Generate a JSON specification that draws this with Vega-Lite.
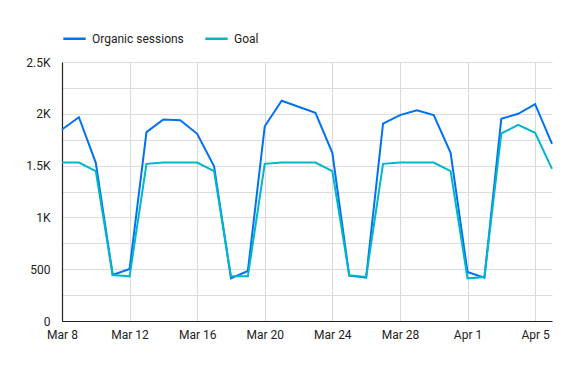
{
  "$schema": "https://vega.github.io/schema/vega-lite/v6.json",
  "width": 490,
  "height": 259,
  "autosize": {"type": "none"},
  "padding": {"left": 62, "top": 62, "right": 30, "bottom": 71},
  "background": "white",
  "config": {
    "font": "Roboto",
    "view": {"stroke": null},
    "axis": {"labelFont": "Roboto", "labelFontSize": 12, "labelColor": "#222222", "ticks": false, "gridColor": "#dddddd", "gridWidth": 1, "domainColor": "#222222", "domainWidth": 1.2, "title": null, "labelOverlap": false}
  },
  "data": {
    "values": [
      {"date": "2023-03-08", "series": "Organic sessions", "value": 1848},
      {"date": "2023-03-09", "series": "Organic sessions", "value": 1967},
      {"date": "2023-03-10", "series": "Organic sessions", "value": 1527},
      {"date": "2023-03-11", "series": "Organic sessions", "value": 444},
      {"date": "2023-03-12", "series": "Organic sessions", "value": 502},
      {"date": "2023-03-13", "series": "Organic sessions", "value": 1823},
      {"date": "2023-03-14", "series": "Organic sessions", "value": 1945},
      {"date": "2023-03-15", "series": "Organic sessions", "value": 1938},
      {"date": "2023-03-16", "series": "Organic sessions", "value": 1807},
      {"date": "2023-03-17", "series": "Organic sessions", "value": 1494},
      {"date": "2023-03-18", "series": "Organic sessions", "value": 412},
      {"date": "2023-03-19", "series": "Organic sessions", "value": 483},
      {"date": "2023-03-20", "series": "Organic sessions", "value": 1880},
      {"date": "2023-03-21", "series": "Organic sessions", "value": 2126},
      {"date": "2023-03-22", "series": "Organic sessions", "value": 2068},
      {"date": "2023-03-23", "series": "Organic sessions", "value": 2010},
      {"date": "2023-03-24", "series": "Organic sessions", "value": 1623},
      {"date": "2023-03-25", "series": "Organic sessions", "value": 438},
      {"date": "2023-03-26", "series": "Organic sessions", "value": 418},
      {"date": "2023-03-27", "series": "Organic sessions", "value": 1906},
      {"date": "2023-03-28", "series": "Organic sessions", "value": 1987},
      {"date": "2023-03-29", "series": "Organic sessions", "value": 2035},
      {"date": "2023-03-30", "series": "Organic sessions", "value": 1987},
      {"date": "2023-03-31", "series": "Organic sessions", "value": 1623},
      {"date": "2023-04-01", "series": "Organic sessions", "value": 473},
      {"date": "2023-04-02", "series": "Organic sessions", "value": 418},
      {"date": "2023-04-03", "series": "Organic sessions", "value": 1952},
      {"date": "2023-04-04", "series": "Organic sessions", "value": 2000},
      {"date": "2023-04-05", "series": "Organic sessions", "value": 2093},
      {"date": "2023-04-06", "series": "Organic sessions", "value": 1710},
      {"date": "2023-03-08", "series": "Goal", "value": 1530},
      {"date": "2023-03-09", "series": "Goal", "value": 1530},
      {"date": "2023-03-10", "series": "Goal", "value": 1446},
      {"date": "2023-03-11", "series": "Goal", "value": 444},
      {"date": "2023-03-12", "series": "Goal", "value": 431},
      {"date": "2023-03-13", "series": "Goal", "value": 1517},
      {"date": "2023-03-14", "series": "Goal", "value": 1530},
      {"date": "2023-03-15", "series": "Goal", "value": 1530},
      {"date": "2023-03-16", "series": "Goal", "value": 1530},
      {"date": "2023-03-17", "series": "Goal", "value": 1446},
      {"date": "2023-03-18", "series": "Goal", "value": 431},
      {"date": "2023-03-19", "series": "Goal", "value": 431},
      {"date": "2023-03-20", "series": "Goal", "value": 1517},
      {"date": "2023-03-21", "series": "Goal", "value": 1530},
      {"date": "2023-03-22", "series": "Goal", "value": 1530},
      {"date": "2023-03-23", "series": "Goal", "value": 1530},
      {"date": "2023-03-24", "series": "Goal", "value": 1446},
      {"date": "2023-03-25", "series": "Goal", "value": 441},
      {"date": "2023-03-26", "series": "Goal", "value": 425},
      {"date": "2023-03-27", "series": "Goal", "value": 1517},
      {"date": "2023-03-28", "series": "Goal", "value": 1530},
      {"date": "2023-03-29", "series": "Goal", "value": 1530},
      {"date": "2023-03-30", "series": "Goal", "value": 1530},
      {"date": "2023-03-31", "series": "Goal", "value": 1446},
      {"date": "2023-04-01", "series": "Goal", "value": 412},
      {"date": "2023-04-02", "series": "Goal", "value": 425},
      {"date": "2023-04-03", "series": "Goal", "value": 1810},
      {"date": "2023-04-04", "series": "Goal", "value": 1894},
      {"date": "2023-04-05", "series": "Goal", "value": 1817},
      {"date": "2023-04-06", "series": "Goal", "value": 1469}
    ]
  },
  "mark": {"type": "line", "strokeWidth": 2, "interpolate": "linear"},
  "encoding": {
    "x": {
      "field": "date",
      "type": "temporal",
      "scale": {"type": "utc", "nice": false},
      "axis": {
        "values": [
          {"year": 2023, "month": 3, "date": 8, "utc": true},
          {"year": 2023, "month": 3, "date": 12, "utc": true},
          {"year": 2023, "month": 3, "date": 16, "utc": true},
          {"year": 2023, "month": 3, "date": 20, "utc": true},
          {"year": 2023, "month": 3, "date": 24, "utc": true},
          {"year": 2023, "month": 3, "date": 28, "utc": true},
          {"year": 2023, "month": 4, "date": 1, "utc": true},
          {"year": 2023, "month": 4, "date": 5, "utc": true}
        ],
        "labelExpr": "utcFormat(datum.value, '%b %-d')",
        "labelPadding": 8,
        "labelFlush": false,
        "grid": true,
        "gridColor": "#d9d9d9"
      }
    },
    "y": {
      "field": "value",
      "type": "quantitative",
      "scale": {"domain": [0, 2500], "nice": false},
      "axis": {
        "values": [0, 250, 500, 750, 1000, 1250, 1500, 1750, 2000, 2250, 2500],
        "labelExpr": "datum.value % 500 != 0 ? '' : (datum.value >= 1000 ? (datum.value / 1000) + 'K' : datum.label)",
        "labelPadding": 12,
        "grid": true
      }
    },
    "color": {
      "field": "series",
      "type": "nominal",
      "scale": {"domain": ["Organic sessions", "Goal"], "range": ["#0072f0", "#00b6cb"]},
      "sort": ["Organic sessions", "Goal"],
      "legend": {
        "title": null,
        "orient": "none",
        "legendX": 0,
        "legendY": -36,
        "direction": "horizontal",
        "symbolType": "stroke",
        "symbolSize": 500,
        "symbolStrokeWidth": 2.5,
        "labelFont": "Roboto",
        "labelFontSize": 12,
        "labelColor": "#222222",
        "labelOffset": 5,
        "columnPadding": 16
      }
    },
    "order": {"field": "series", "sort": "descending"}
  }
}
